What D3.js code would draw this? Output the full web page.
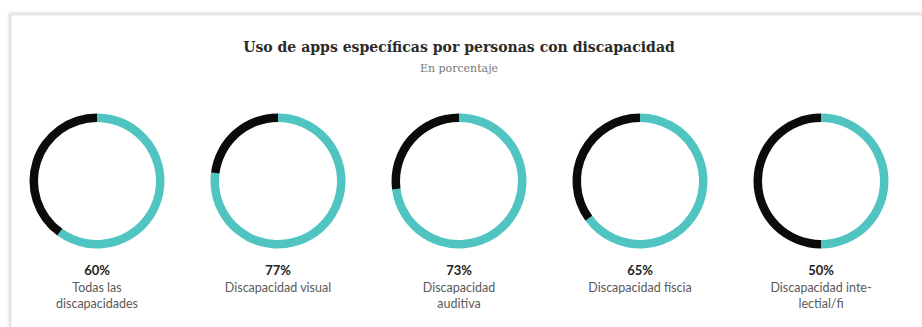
<!DOCTYPE html>
<html>
<head>
<meta charset="utf-8">
<script src="https://cdn.jsdelivr.net/npm/d3@7"></script>
<style>
  html, body { margin: 0; padding: 0; background: #fff; }
  svg { display: block; }
</style>
</head>
<body>
<div id="chart"></div>
<script>
// data
const categories = [
  ["Todas las", "discapacidades"],
  ["Discapacidad visual"],
  ["Discapacidad", "auditiva"],
  ["Discapacidad físcia"],
  ["Discapacidad inte-", "lectial/fi"]
];
const values = [60, 77, 73, 65, 50];
const title = "Uso de apps específicas por personas con discapacidad";
const subtitle = "En porcentaje";

const width = 922;
const height = 327;
const teal = "#4fc4c1";

const svg = d3.select("#chart").append("svg")
  .attr("width", width)
  .attr("height", height);

// soft frame around the graphic
const defs = svg.append("defs");
const blur = defs.append("filter").attr("id", "shadow")
  .attr("x", "-5%").attr("y", "-5%").attr("width", "110%").attr("height", "110%");
blur.append("feGaussianBlur").attr("stdDeviation", 1.5);

svg.append("rect")
  .attr("x", 10).attr("y", 14)
  .attr("width", 1000).attr("height", 400)
  .attr("fill", "none")
  .attr("stroke", "#ccc")
  .attr("stroke-width", 2)
  .attr("filter", "url(#shadow)");
svg.append("rect")
  .attr("x", 11).attr("y", 15)
  .attr("width", 1000).attr("height", 400)
  .attr("fill", "#fff")
  .attr("stroke", "#e4e4e4");

// title, shrunk to the width it takes in the picture
const titleText = svg.append("text")
  .attr("x", 459).attr("y", 52)
  .attr("text-anchor", "middle")
  .style("font", "bold 16px 'DejaVu Serif', serif")
  .attr("fill", "#2b2b2b")
  .text(title);
const tw = titleText.node().getComputedTextLength();
titleText.style("font-size", (16 * 432 / tw) + "px");

svg.append("text")
  .attr("x", 459).attr("y", 72)
  .attr("text-anchor", "middle")
  .style("font", "11px 'DejaVu Serif', serif")
  .attr("fill", "#777")
  .text(subtitle);

const x = d3.scalePoint()
  .domain(d3.range(values.length))
  .range([97, 821]);

const angle = d3.scaleLinear().domain([0, 100]).range([0, 2 * Math.PI]);

const arc = d3.arc()
  .innerRadius(59)
  .outerRadius(67.5);

const g = svg.append("g")
  .selectAll("g")
  .data(values)
  .join("g")
  .attr("transform", (d, i) => `translate(${x(i)},181)`);

g.append("path")
  .attr("fill", teal)
  .attr("d", d => arc({startAngle: 0, endAngle: angle(d)}));

g.append("path")
  .attr("fill", "#0b0b0b")
  .attr("d", d => arc({startAngle: angle(d), endAngle: angle(100)}));

// labels under each ring
const lab = svg.append("g")
  .attr("text-anchor", "middle")
  .selectAll("g")
  .data(values)
  .join("g")
  .attr("transform", (d, i) => `translate(${x(i)},0)`);

lab.append("text")
  .attr("y", 275)
  .style("font", "bold 13px Lato, sans-serif")
  .attr("fill", "#222")
  .text(d => d + "%");

lab.each(function(d, i) {
  d3.select(this).selectAll("text.cat")
    .data(categories[i])
    .join("text")
    .attr("class", "cat")
    .attr("y", (t, j) => 292 + j * 16)
    .style("font", "12.5px Lato, sans-serif")
    .attr("fill", "#5a5a5a")
    .text(t => t);
});
</script>
</body>
</html>
